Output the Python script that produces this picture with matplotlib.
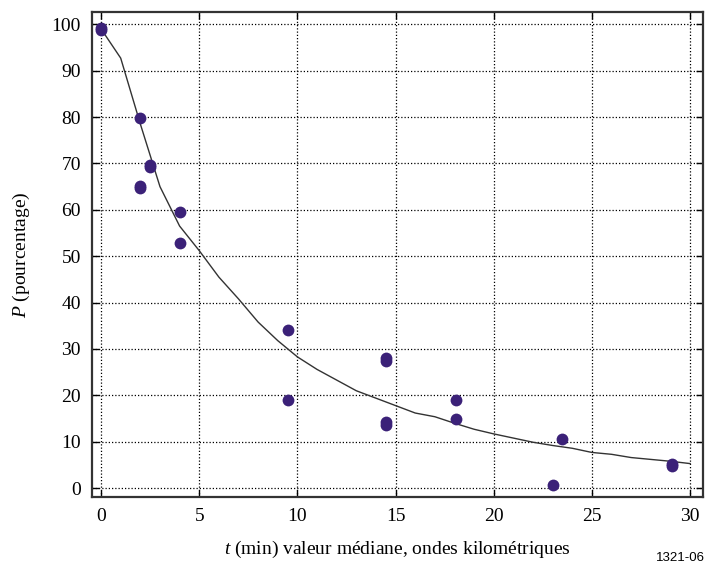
import matplotlib
matplotlib.use("Agg")
import matplotlib.pyplot as plt

plt.rcParams['font.family'] = 'Liberation Serif'
plt.rcParams['mathtext.fontset'] = 'custom'
plt.rcParams['mathtext.rm'] = 'Liberation Serif'
plt.rcParams['mathtext.it'] = 'Liberation Serif:italic'

# measured points
t_pts = [0, 0, 2, 2, 2, 2.5, 2.5, 4, 4, 9.5, 9.5, 14.5, 14.5, 14.5, 14.5,
         18.1, 18.1, 23, 23.5, 29.1, 29.1]
p_pts = [98.7, 99.1, 79.7, 65.2, 64.7, 69.3, 69.7, 59.6, 52.8, 34, 19, 28.0,
         27.5, 14.2, 13.7, 19, 14.9, 0.6, 10.7, 5.3, 4.8]

# fitted curve
t_fit = [0, 1, 2, 3, 4, 5, 6, 7, 8, 9, 10, 11, 12, 13, 14, 15, 16, 17, 18,
         19, 20, 21, 22, 23, 24, 25, 26, 27, 28, 29, 30]
p_fit = [99, 92.7, 78.5, 65, 56.5, 51.2, 45.5, 40.8, 35.8, 31.8, 28.3, 25.6,
         23.3, 21.0, 19.4, 17.8, 16.2, 15.4, 14.0, 12.7, 11.7, 10.8, 9.9,
         9.2, 8.6, 7.7, 7.3, 6.6, 6.2, 5.8, 5.3]

fig = plt.figure(figsize=(7.08, 5.81), dpi=100)
ax = fig.add_axes([0.130, 0.1446, 0.863, 0.8344])

ax.plot(t_fit, p_fit, color='#333333', lw=1.0, zorder=2)
ax.plot(t_pts, p_pts, 'o', color='#3b2178', ms=8.5, mec='none', zorder=3)

ax.set_xlim(-0.46, 30.66)
ax.set_ylim(-1.9, 102.6)
ax.set_xticks(range(0, 31, 5))
ax.set_yticks(range(0, 101, 10))
ax.grid(True, color='black', linestyle=(0, (1, 1.6)), lw=0.9)
ax.tick_params(direction='in', top=True, right=True, length=5,
               labelsize=14, width=1, pad=8)
for s in ax.spines.values():
    s.set_linewidth(1.6)
    s.set_color('#333333')

ax.set_xlabel('$t$ (min) valeur médiane, ondes kilométriques', fontsize=14, labelpad=10)
ax.set_ylabel('$P$ (pourcentage)', fontsize=14, labelpad=14)
fig.text(0.995, 0.03, '1321-06', family='Liberation Sans', fontsize=9.5,
         ha='right', va='bottom')

fig.savefig('out.png', dpi=100)
